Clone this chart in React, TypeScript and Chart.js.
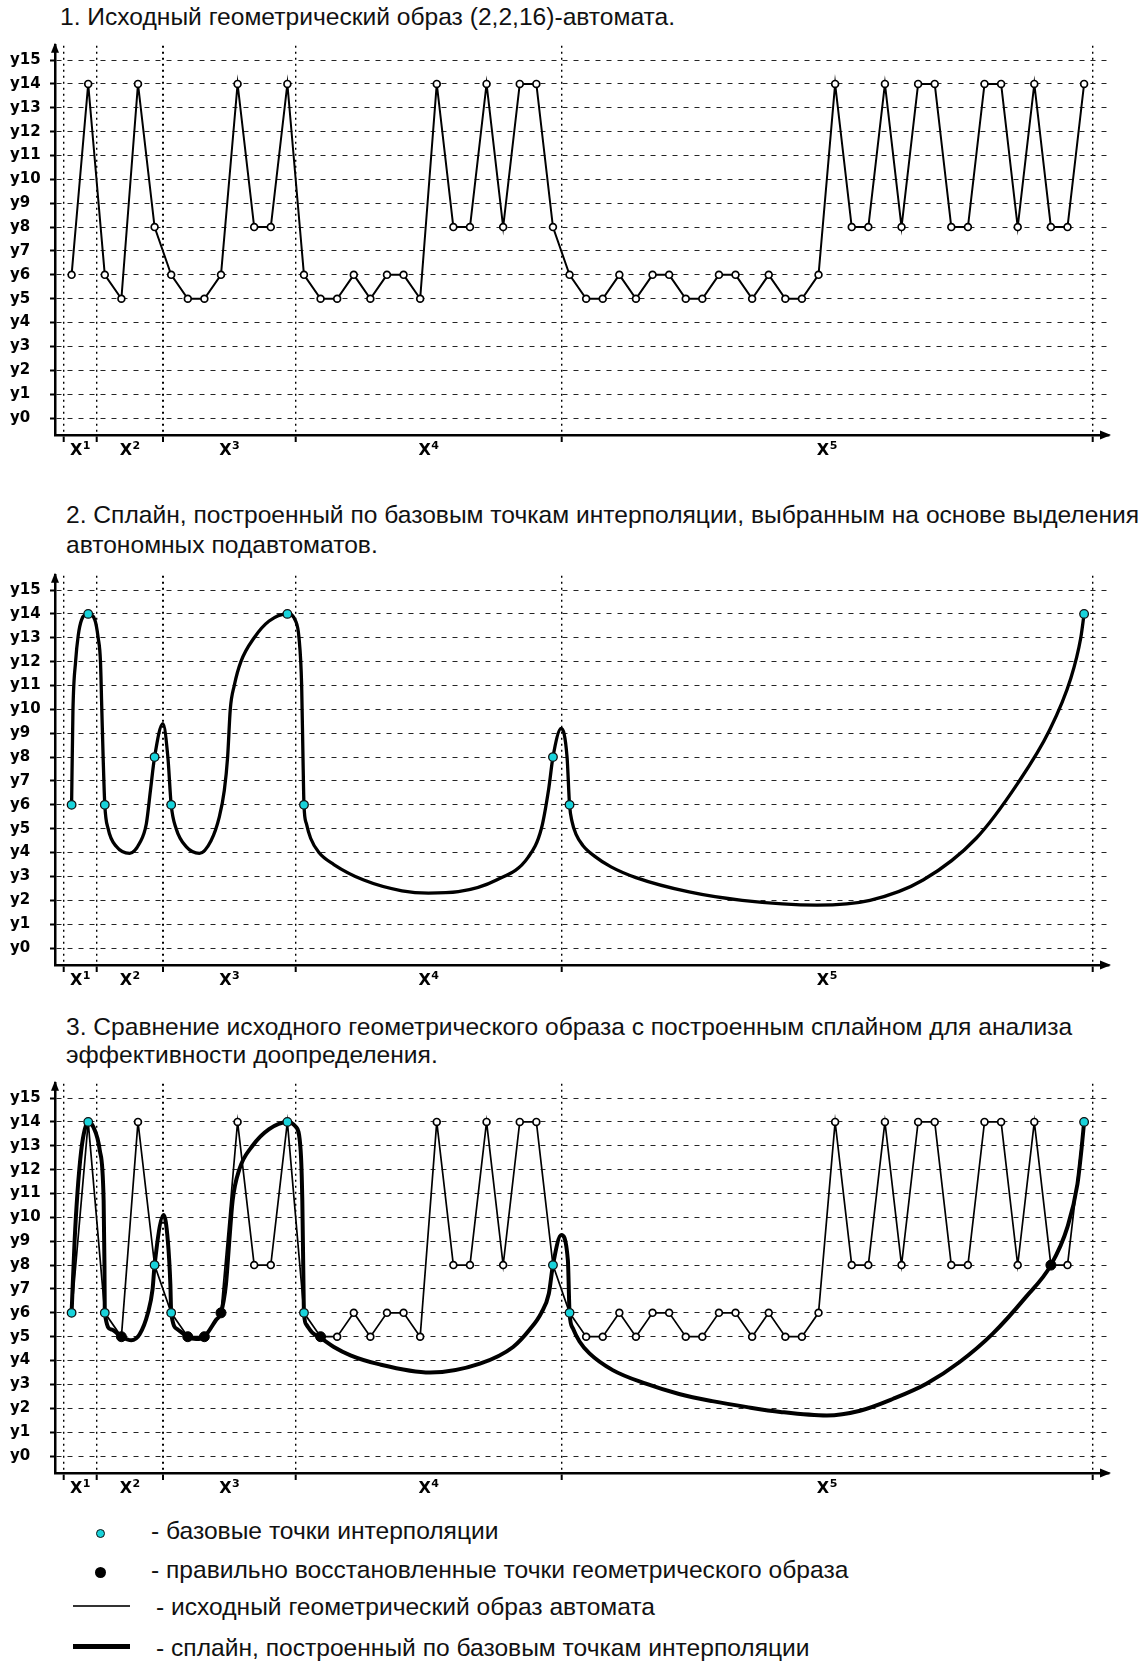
import React, { useEffect, useRef } from "react";
import { Chart, registerables } from "chart.js";

Chart.register(...registerables);

// ---------- DATA ----------
// Original geometric image of the (2,2,16)-automaton: y-level of each point, sections X1..X5
const originalValues = [
  6, 14, 6, 5, 14, 8, 6, 5, 5, 6,
  14, 8, 8, 14, 6, 5, 5, 6, 5, 6,
  6, 5, 14, 8, 8, 14, 8, 14, 14, 8,
  6, 5, 5, 6, 5, 6, 6, 5, 5, 6,
  6, 5, 6, 5, 5, 6, 14, 8, 8, 14,
  8, 14, 14, 8, 8, 14, 14, 8, 14, 8,
  8, 14,
];
// base interpolation points (first / last point of every section)
const baseIndices = [0, 1, 2, 5, 6, 13, 14, 29, 30, 61];
// correctly restored points of the geometric image (chart 3)
const restoredIndices = [3, 7, 8, 9, 15, 59];
// x axis: section boundaries and section label positions
const sectionBounds = [-0.5, 1.5, 5.5, 13.5, 29.5, 61.5];
const sectionCenters = [0.5, 3.5, 9.5, 21.5, 45.5];
const sectionNames = ["X", "X", "X", "X", "X"];
const sectionSups = ["1", "2", "3", "4", "5"];
// y axis levels and labels
const yLevels = [0, 1, 2, 3, 4, 5, 6, 7, 8, 9, 10, 11, 12, 13, 14, 15];
const yLabels = ["y0", "y1", "y2", "y3", "y4", "y5", "y6", "y7", "y8", "y9", "y10", "y11", "y12", "y13", "y14", "y15"];

// spline of chart 2
const spline2X = [
  0, 0.08, 0.24, 0.4, 0.6, 1, 1.4, 1.6, 1.74, 1.82, 1.9, 2,
  2.2, 2.7, 3.5, 4.1, 4.5, 4.75, 5, 5.5, 5.8, 6,
  6.3, 6.9, 7.7, 8.4, 8.9, 9.2, 9.4, 9.56, 9.8, 10.2, 11, 11.9, 13,
  13.5, 13.7, 13.86, 13.94, 14,
  14.15, 14.4, 14.9, 15.8, 17.6, 19.9, 21.5, 23.3, 25.6, 27.5, 28.3, 28.75, 29,
  29.5, 29.85, 30,
  30.15, 30.4, 30.8, 31.5, 32.5, 34.0, 37.2, 40.4, 44.9, 48.1, 51.3, 54.5, 57.0, 58.9, 60.2, 60.8, 61,
];
const spline2Y = [
  6, 9.9, 12, 13.1, 13.75, 14, 13.75, 13, 12, 10, 8, 6,
  5, 4.25, 3.97, 4.4, 5.2, 6.6, 8, 9.4, 8, 6,
  5, 4.25, 3.97, 4.5, 5.5, 6.6, 8, 10, 11, 12, 13, 13.7, 14,
  13.7, 13, 11, 8, 6,
  5.2, 4.6, 4.0, 3.5, 2.85, 2.4, 2.3, 2.36, 2.85, 3.8, 5, 6.7, 8,
  9.2, 8, 6,
  5.3, 4.75, 4.3, 3.85, 3.4, 2.95, 2.35, 2.0, 1.8, 2.0, 2.85, 4.6, 6.9, 9.1, 11.3, 13.0, 14,
];

// spline of chart 3
const spline3X = [
  0, 0.18, 0.35, 0.58, 0.8, 1, 1.3, 1.7, 1.93, 1.98, 2,
  2.4, 3, 3.6, 4.1, 4.6, 4.88, 5, 5.55, 5.8, 5.95, 6,
  6.4, 7, 7.5, 8, 8.7, 9, 9.3, 9.5, 9.7, 10.1, 10.9, 11.9, 13,
  13.5, 13.8, 13.9, 13.97, 14,
  14.15, 14.5, 15, 15.8, 16.8, 18.5, 21.6, 24.6, 26.6, 27.6, 28.3, 28.75, 29,
  29.5, 29.9, 30,
  30.2, 30.6, 31.2, 32.6, 34.6, 36.6, 38.6, 40.7, 42.7, 45.5, 47.5, 49.5, 51.5, 53.5, 55.5, 57.5, 59, 60, 60.6, 60.85, 61,
];
const spline3Y = [
  6, 9, 11, 12.8, 13.7, 14, 13.8, 12.8, 10.7, 8, 6,
  5.3, 5, 4.85, 5.1, 6, 7, 8, 10.1, 9, 7.2, 6,
  5.3, 5, 4.9, 5, 5.7, 6, 7.2, 9, 10.7, 12, 13, 13.7, 14,
  13.8, 12.8, 10.7, 7.2, 6,
  5.5, 5.17, 4.95, 4.57, 4.22, 3.85, 3.5, 3.87, 4.57, 5.3, 6.0, 6.8, 8,
  9.26, 8.2, 6,
  5.35, 4.8, 4.3, 3.6, 3.03, 2.6, 2.3, 2.05, 1.85, 1.7, 1.9, 2.4, 3.03, 3.94, 5.13, 6.67, 8, 9.6, 11.4, 12.9, 14,
];

// ---------- STYLE ----------
const CYAN = "#19d3db";
const TEXT_FONT = '"Liberation Sans", Arial, sans-serif';
const AXIS_FONT = '"DejaVu Sans", Verdana, sans-serif';

const isBound = (v: number) => sectionBounds.some((b) => Math.abs(b - v) < 1e-6);

const arrowPlugin = {
  id: "axisArrows",
  afterDraw(chart: any) {
    const { ctx, chartArea } = chart;
    const { left, top, right, bottom } = chartArea;
    ctx.save();
    ctx.fillStyle = "#000";
    ctx.beginPath();
    ctx.moveTo(left, top - 3);
    ctx.lineTo(left - 4, top + 7);
    ctx.lineTo(left + 4, top + 7);
    ctx.closePath();
    ctx.fill();
    ctx.beginPath();
    ctx.moveTo(right + 2, bottom);
    ctx.lineTo(right - 9, bottom - 4.5);
    ctx.lineTo(right - 9, bottom + 4.5);
    ctx.closePath();
    ctx.fill();
    ctx.restore();
  },
};

// section labels "X" with a large superscript, placed through the x scale
const xLabelPlugin = {
  id: "sectionLabels",
  afterDraw(chart: any) {
    const { ctx, chartArea } = chart;
    const sx = chart.scales.x;
    const y = chartArea.bottom + 16;
    ctx.save();
    ctx.fillStyle = "#000";
    ctx.textBaseline = "middle";
    ctx.textAlign = "left";
    sectionCenters.forEach((c, k) => {
      const px = sx.getPixelForValue(c);
      ctx.font = `bold 16px ${AXIS_FONT}`;
      const w1 = ctx.measureText(sectionNames[k]).width;
      ctx.font = `bold 11px ${AXIS_FONT}`;
      const w2 = ctx.measureText(sectionSups[k]).width;
      const x0 = px - (w1 + w2) / 2;
      ctx.font = `bold 16px ${AXIS_FONT}`;
      ctx.fillText(sectionNames[k], x0, y);
      ctx.font = `bold 11px ${AXIS_FONT}`;
      ctx.fillText(sectionSups[k], x0 + w1 + 0.5, y - 5);
    });
    ctx.restore();
  },
};

function makeOptions() {
  const boundColor = (c: any) => (c.tick && isBound(c.tick.value) ? "#000" : "rgba(0,0,0,0)");
  return {
    animation: false,
    responsive: false,
    maintainAspectRatio: false,
    events: [],
    layout: { autoPadding: false, padding: { top: 15.7, left: 10, right: 36, bottom: 0 } },
    plugins: { legend: { display: false }, tooltip: { enabled: false } },
    scales: {
      x: {
        type: "linear",
        min: -1,
        max: 62.5,
        afterBuildTicks: (s: any) => {
          s.ticks = sectionBounds.map((v) => ({ value: v }));
        },
        afterFit: (s: any) => {
          s.height = 35;
        },
        ticks: {
          autoSkip: false,
          maxRotation: 0,
          minRotation: 0,
          callback: () => "",
        },
        grid: {
          color: boundColor,
          tickColor: boundColor,
          lineWidth: (c: any) => (c.tick && Math.abs(c.tick.value - 5.5) < 1e-6 ? 2 : 1.4),
          tickLength: 7,
          tickWidth: 2,
        },
        border: { display: true, color: "#000", width: 2.5, dash: [2, 4] },
      },
      y: {
        type: "linear",
        min: -0.71,
        max: 15.6,
        afterBuildTicks: (s: any) => {
          s.ticks = yLevels.map((v) => ({ value: v }));
        },
        afterFit: (s: any) => {
          s.width = 45;
        },
        ticks: {
          autoSkip: false,
          crossAlign: "far",
          color: "#000",
          font: { family: AXIS_FONT, size: 15, weight: "bold" },
          callback: (v: any) => {
            const k = yLevels.indexOf(Number(v));
            return k >= 0 ? yLabels[k] : "";
          },
        },
        grid: { color: "rgba(0,0,0,0.85)", lineWidth: 1, tickLength: 5, tickColor: "#000", tickWidth: 2 },
        border: { display: true, color: "#000", width: 2.5, dash: [5, 6] },
      },
    },
  };
}

const originalPoints = () => originalValues.map((v, i) => ({ x: i, y: v }));
const pickPoints = (idx: number[]) => idx.map((i) => ({ x: i, y: originalValues[i] }));
const splinePoints = (xs: number[], ys: number[]) => xs.map((x, i) => ({ x, y: ys[i] }));

function originalDataset(width: number, order: number) {
  return {
    data: originalPoints(),
    showLine: true,
    tension: 0,
    borderColor: "#000",
    borderWidth: width,
    pointRadius: 3.4,
    pointBackgroundColor: "#fff",
    pointBorderColor: "#000",
    pointBorderWidth: 1.7,
    order,
  };
}
function splineDataset(xs: number[], ys: number[], width: number, order: number) {
  return {
    data: splinePoints(xs, ys),
    showLine: true,
    cubicInterpolationMode: "monotone",
    borderColor: "#000",
    borderWidth: width,
    pointRadius: 0,
    order,
  };
}
function baseDataset(order: number) {
  return {
    data: pickPoints(baseIndices),
    showLine: false,
    pointRadius: 4.3,
    pointBackgroundColor: CYAN,
    pointBorderColor: "#111",
    pointBorderWidth: 1.3,
    order,
  };
}
function restoredDataset(order: number) {
  return {
    data: pickPoints(restoredIndices),
    showLine: false,
    pointRadius: 5,
    pointBackgroundColor: "#000",
    pointBorderColor: "#000",
    pointBorderWidth: 1,
    order,
  };
}

function Panel({ top, kind }: { top: number; kind: number }) {
  const ref = useRef<HTMLCanvasElement>(null);
  useEffect(() => {
    let datasets: any[] = [];
    if (kind === 1) datasets = [originalDataset(2, 1)];
    if (kind === 2) datasets = [splineDataset(spline2X, spline2Y, 3.3, 2), baseDataset(1)];
    if (kind === 3)
      datasets = [
        originalDataset(1.7, 4),
        splineDataset(spline3X, spline3Y, 4, 3),
        baseDataset(2),
        restoredDataset(1),
      ];
    const chart = new Chart(ref.current as HTMLCanvasElement, {
      type: "scatter",
      data: { datasets },
      options: makeOptions() as any,
      plugins: [arrowPlugin, xLabelPlugin],
    } as any);
    return () => chart.destroy();
  }, [kind]);
  return (
    <canvas
      ref={ref}
      width={1145}
      height={440}
      style={{ position: "absolute", left: 0, top, width: 1145, height: 440 }}
    />
  );
}

const textStyle = (left: number, top: number, lh: number): React.CSSProperties => ({
  position: "absolute",
  left,
  top,
  lineHeight: lh + "px",
  fontFamily: TEXT_FONT,
  fontSize: 24.6,
  color: "#111",
  whiteSpace: "nowrap",
});

export default function App() {
  return (
    <div
      style={{
        position: "absolute",
        left: 0,
        top: 0,
        width: 1145,
        height: 1662,
        background: "#fff",
        overflow: "hidden",
      }}
    >
      <div style={textStyle(60, 3, 28)}>1. Исходный геометрический образ (2,2,16)-автомата.</div>
      <Panel top={30} kind={1} />

      <div style={textStyle(66, 500, 30)}>
        <div>2. Сплайн, построенный по базовым точкам интерполяции, выбранным на основе выделения</div>
        <div>автономных подавтоматов.</div>
      </div>
      <Panel top={560} kind={2} />

      <div style={textStyle(66, 1013, 28)}>
        <div>3. Сравнение исходного геометрического образа с построенным сплайном для анализа</div>
        <div>эффективности доопределения.</div>
      </div>
      <Panel top={1068} kind={3} />

      {/* legend */}
      <div
        style={{
          position: "absolute",
          left: 95.5,
          top: 1528.5,
          width: 9,
          height: 9,
          boxSizing: "border-box",
          borderRadius: "50%",
          background: CYAN,
          border: "1.5px solid #111",
        }}
      />
      <div style={textStyle(151, 1517, 28)}>- базовые точки интерполяции</div>
      <div
        style={{
          position: "absolute",
          left: 94.5,
          top: 1566.5,
          width: 11,
          height: 11,
          borderRadius: "50%",
          background: "#000",
        }}
      />
      <div style={textStyle(151, 1556, 28)}>- правильно восстановленные точки геометрического образа</div>
      <div style={{ position: "absolute", left: 73, top: 1605, width: 57, height: 1.5, background: "#333" }} />
      <div style={textStyle(156, 1593, 28)}>- исходный геометрический образ автомата</div>
      <div style={{ position: "absolute", left: 73, top: 1644, width: 57, height: 4.5, background: "#000" }} />
      <div style={textStyle(156, 1634, 28)}>- сплайн, построенный по базовым точкам интерполяции</div>
    </div>
  );
}
